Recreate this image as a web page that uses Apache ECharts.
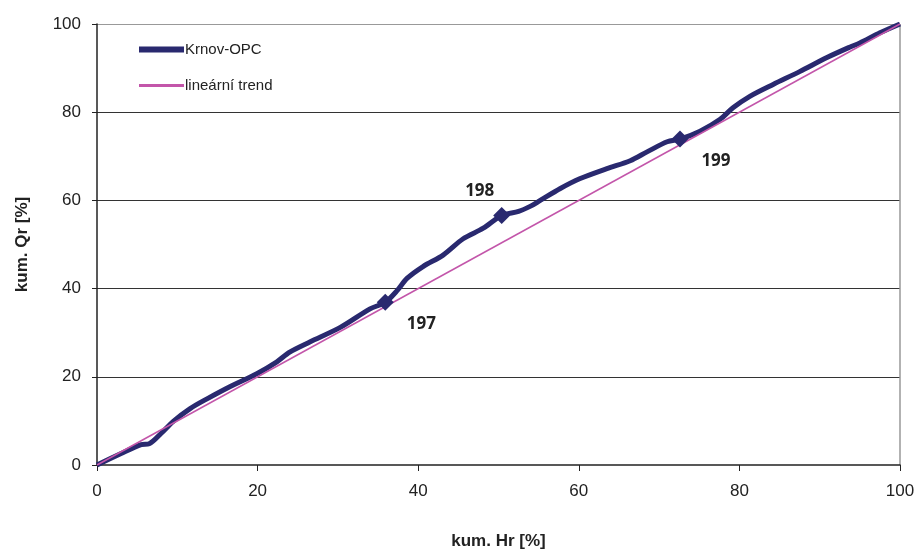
<!DOCTYPE html>
<html><head><meta charset="utf-8">
<script src="https://cdn.jsdelivr.net/npm/echarts@6/dist/echarts.min.js"></script>
<style>html,body{margin:0;padding:0;background:#fff}#c{width:920px;height:555px}</style>
</head><body><div id="c"></div>
<script>
// cumulative Hr [%] (x) and cumulative Qr [%] (y) for Krnov-OPC
const curveX = [0, 3, 5.5, 6.5, 8, 9.5, 11.6, 13.7, 16.6, 19.9, 22.4, 24, 26.5, 30.3, 34, 35.9, 37.4, 38.6, 40.6, 43.1, 45.6, 48.1, 50.4, 52.5, 54, 55.2, 57.7, 60.1, 63.5, 66.4, 68.5, 71, 72.6, 75.1, 77.6, 79.2, 81.3, 84.2, 87.5, 90.9, 93.8, 95, 97.5, 100];
const curveY = [0, 2.6, 4.6, 4.8, 7.2, 9.9, 12.8, 15, 17.8, 20.7, 23.4, 25.6, 27.9, 31.2, 35.4, 36.9, 39.6, 42.3, 45, 47.6, 51.3, 53.7, 56.6, 57.5, 58.7, 60, 62.7, 64.9, 67.2, 69, 71, 73.3, 73.9, 75.7, 78.4, 81, 83.6, 86.3, 89.2, 92.4, 94.8, 95.7, 98, 100];
const trendX = [0, 100];
const trendY = [0, 100];
const markerX = [35.9, 50.4, 72.6];
const markerY = [36.9, 56.6, 73.9];
const markerLabels = ['197', '198', '199'];
const xTicks = [0, 20, 40, 60, 80, 100];
const yTicks = [0, 20, 40, 60, 80, 100];

const navy = '#29296f', pink = '#c356aa';
const chart = echarts.init(document.getElementById('c'), null, {renderer: 'canvas'});
const labelPos = [[36, 22], [-22, -24], [36, 22]];
chart.setOption({
  animation: false,
  grid: {left: 97, right: 20, top: 24, bottom: 86},
  legend: [
    {data: ['Krnov-OPC'], left: 134, top: 37, icon: 'rect', itemWidth: 45, itemHeight: 6, itemGap: 0,
     textStyle: {fontFamily: 'Liberation Sans', fontSize: 15, color: '#222', padding: [0, 0, 0, -4]}},
    {data: ['lineární trend'], left: 134, top: 73, icon: 'rect', itemWidth: 45, itemHeight: 3, itemGap: 0,
     textStyle: {fontFamily: 'Liberation Sans', fontSize: 15, color: '#222', padding: [0, 0, 0, -4]}}
  ],
  xAxis: {
    type: 'value', min: xTicks[0], max: xTicks[xTicks.length - 1], interval: 20,
    name: 'kum. Hr [%]', nameLocation: 'middle', nameGap: 68,
    nameTextStyle: {fontFamily: 'Liberation Sans', fontWeight: 'bold', fontSize: 17, color: '#222'},
    axisLine: {lineStyle: {color: '#222', width: 1.5}},
    axisTick: {show: true, length: 6, lineStyle: {color: '#222'}},
    axisLabel: {fontFamily: 'Liberation Sans', fontSize: 17, color: '#222', margin: 18},
    splitLine: {show: true, lineStyle: {color: ['transparent', 'transparent', 'transparent', 'transparent', 'transparent', '#999'], width: 1.5}}
  },
  yAxis: {
    type: 'value', min: yTicks[0], max: yTicks[yTicks.length - 1], interval: 20,
    name: 'kum. Qr [%]', nameLocation: 'middle', nameGap: 66,
    nameTextStyle: {fontFamily: 'Liberation Sans', fontWeight: 'bold', fontSize: 17, color: '#222'},
    axisLine: {show: true, lineStyle: {color: '#222', width: 1.5}},
    axisTick: {show: true, length: 5, lineStyle: {color: '#222'}},
    axisLabel: {fontFamily: 'Liberation Sans', fontSize: 17, color: '#222', margin: 16},
    splitLine: {show: true, lineStyle: {color: ['transparent', '#333', '#333', '#333', '#333', '#999'], width: 1.2}}
  },
  series: [
    {name: 'lineární trend', type: 'line', data: trendX.map((x, i) => [x, trendY[i]]),
     showSymbol: false, color: pink, lineStyle: {color: pink, width: 1.5}, z: 3},
    {name: 'Krnov-OPC', type: 'line', data: curveX.map((x, i) => [x, curveY[i]]),
     showSymbol: false, smooth: 0.3, color: navy, lineStyle: {color: navy, width: 5}, z: 2},
    {name: 'markers', type: 'scatter', data: markerX.map((x, i) => [x, markerY[i]]),
     symbol: 'diamond', symbolSize: 17, itemStyle: {color: navy, opacity: 1}, z: 4,
     emphasis: {disabled: true},
     label: {show: true, formatter: p => markerLabels[p.dataIndex],
       position: 'inside',
       fontFamily: 'Open Sans', fontWeight: 'bold', fontSize: 17, color: '#222'},
     labelLayout: p => ({dx: labelPos[p.dataIndex][0], dy: labelPos[p.dataIndex][1]})
    }
  ]
});
</script></body></html>
